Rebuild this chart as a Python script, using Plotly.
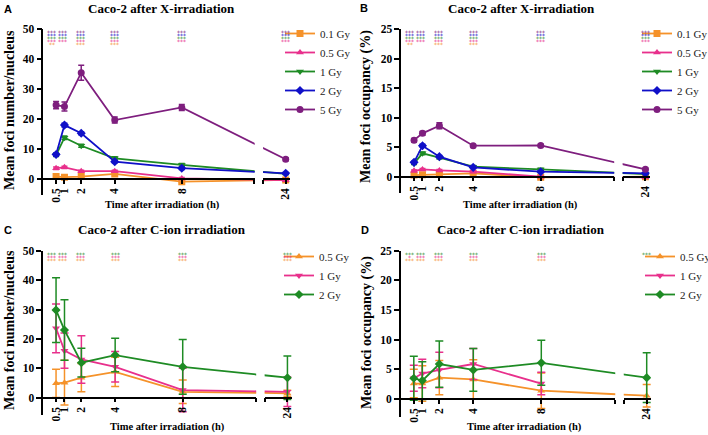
import plotly.graph_objects as go

W, H = 708, 435

# ---------------- data ----------------
times = [0.5, 1, 2, 4, 8, 24]
time_labels = ["0.5", "1", "2", "4", "8", "24"]

# Panel A: mean foci number / nucleus after X-irradiation
a_names = ["0.1 Gy", "0.5 Gy", "1 Gy", "2 Gy", "5 Gy"]
a_g01 = [0.8, 0.6, 0.8, 1.7, -0.9, -0.3]
a_g05 = [3.6, 3.9, 2.6, 2.6, 0.2, -0.4]
a_g1 = [8.0, 13.8, 11.1, 6.9, 4.7, 1.7]
a_g2 = [8.2, 18.0, 15.3, 5.8, 3.6, 1.9]
a_g5 = [24.7, 24.2, 35.5, 19.7, 23.9, 6.6]
a_e01 = [0.3, 0.3, 0.3, 0.4, 0.3, 0.2]
a_e05 = [0.4, 0.4, 0.3, 0.3, 0.3, 0.2]
a_e1 = [0.5, 0.6, 0.5, 0.5, 0.5, 0.3]
a_e2 = [0.5, 0.6, 0.5, 0.4, 0.4, 0.3]
a_e5 = [1.2, 1.5, 2.5, 1.0, 1.0, 0.5]

# Panel B: mean foci occupancy (%) after X-irradiation
b_g01 = [0.28, 0.34, 0.4, 0.57, -0.1, 0.0]
b_g05 = [1.0, 1.24, 1.07, 0.85, 0.0, -0.1]
b_g1 = [2.26, 3.96, 3.22, 1.7, 1.24, 0.45]
b_g2 = [2.43, 5.26, 3.4, 1.58, 0.85, 0.57]
b_g5 = [6.2, 7.35, 8.65, 5.26, 5.3, 1.25]
b_e01 = [0.1, 0.1, 0.1, 0.1, 0.1, 0.1]
b_e05 = [0.15, 0.15, 0.15, 0.15, 0.1, 0.1]
b_e1 = [0.2, 0.25, 0.2, 0.2, 0.2, 0.1]
b_e2 = [0.2, 0.25, 0.2, 0.2, 0.15, 0.1]
b_e5 = [0.3, 0.3, 0.5, 0.2, 0.2, 0.2]

# Panel C: mean foci number / nucleus after C-ion irradiation
c_names = ["0.5 Gy", "1 Gy", "2 Gy"]
c_g05 = [4.9, 5.1, 6.8, 8.8, 2.0, 1.5]
c_g1 = [23.6, 16.0, 13.0, 10.5, 2.6, 2.0]
c_g2 = [29.8, 23.0, 11.9, 14.5, 10.5, 6.8]
c_e05 = [4.8, 7.6, 4.8, 5.0, 4.0, 1.0]
c_e1 = [8.3, 6.0, 8.1, 5.2, 7.4, 5.0]
c_e2 = [11.0, 10.3, 4.9, 5.7, 9.3, 7.4]

# Panel D: mean foci occupancy (%) after C-ion irradiation
d_g05 = [2.6, 2.6, 3.6, 3.3, 1.4, 0.56]
d_g1 = [3.5, 4.3, 4.9, 5.9, 2.6, None]
d_g2 = [3.5, 3.1, 5.9, 4.9, 6.1, 3.6]
d_e05 = [2.4, 3.0, 2.9, 3.3, 3.0, 1.9]
d_e1 = [2.2, 2.4, 3.0, 2.6, 1.9, None]
d_e2 = [3.7, 3.2, 3.9, 3.6, 3.8, 4.2]

# significance marks (rows listed top to bottom)
a_stars = [["***"] * 6, ["***"] * 6, ["***"] * 6, ["***"] * 6,
           ["**", "", "***", "***", "", ""]]
b_stars = a_stars
c_stars = [["***"] * 6, ["***"] * 6, ["***"] * 6]
d_stars = [["***"] * 6, ["*", "***", "***", "***", "***", ""],
           ["***", "***", "***", "***", "***", ""]]

# ---------------- styling ----------------
ORANGE = "#F5922A"
PINK = "#E8308C"
GREEN = "#1E8B24"
BLUE = "#1010C8"
PURPLE = "#7E1E7E"
SERIF = "Liberation Serif"

XS, XE = -0.26, 12.35      # first axis segment (hours)
X2S, X2E = 12.85, 14.45    # second segment after the break
X24 = 14.2                 # display position of the 24 h point


def disp(t):
    return t if t <= 12 else X24


fig = go.Figure()
annotations = []
layout = {}

panels = [
    dict(key="A", title="Caco-2 after X-irradiation", ytitle="Mean foci number/nucleus",
         x0=47.7, pxh=16.76, y0=179.0, ppu=2.994, ytop=50, ybot_px=195, dtick=10,
         names=a_names, ys=[a_g01, a_g05, a_g1, a_g2, a_g5], es=[a_e01, a_e05, a_e1, a_e2, a_e5],
         colors=[ORANGE, PINK, GREEN, BLUE, PURPLE],
         symbols=["square", "triangle-up", "triangle-down", "diamond", "circle"],
         stars=a_stars, star_colors=[PURPLE, BLUE, GREEN, PINK, ORANGE], star_off=1.7, star_gap=3.0,
         leg=(280, 19), letter=(8, 9), tpos=(161, 8), ytpos=(9, 110), xtpos=(162, 205), capw=3),
    dict(key="B", title="Caco-2 after X-irradiation", ytitle="Mean foci occupancy (%)",
         x0=405.6, pxh=16.89, y0=176.7, ppu=5.896, ytop=25, ybot_px=193, dtick=5,
         names=a_names, ys=[b_g01, b_g05, b_g1, b_g2, b_g5], es=[b_e01, b_e05, b_e1, b_e2, b_e5],
         colors=[ORANGE, PINK, GREEN, BLUE, PURPLE],
         symbols=["square", "triangle-up", "triangle-down", "diamond", "circle"],
         stars=b_stars, star_colors=[PURPLE, BLUE, GREEN, PINK, ORANGE], star_off=1.7, star_gap=3.0,
         leg=(637, 19), letter=(364, 8), tpos=(521, 8), ytpos=(366, 106), xtpos=(520, 205), capw=3),
    dict(key="C", title="Caco-2 after C-ion irradiation", ytitle="Mean foci number/nucleus",
         x0=47.6, pxh=16.89, y0=397.7, ppu=2.94, ytop=50, ybot_px=415, dtick=10,
         names=c_names, ys=[c_g05, c_g1, c_g2], es=[c_e05, c_e1, c_e2],
         colors=[ORANGE, PINK, GREEN],
         symbols=["triangle-up", "triangle-down", "diamond"],
         stars=c_stars, star_colors=[GREEN, PINK, ORANGE], star_off=2.0, star_gap=3.3,
         leg=(279, 242), letter=(8, 230), tpos=(162, 229), ytpos=(9, 330), xtpos=(167, 427), capw=4),
    dict(key="D", title="Caco-2 after C-ion irradiation", ytitle="Mean foci occupancy (%)",
         x0=405.3, pxh=17.0, y0=399.0, ppu=5.93, ytop=25, ybot_px=416.7, dtick=5,
         names=c_names, ys=[d_g05, d_g1, d_g2], es=[d_e05, d_e1, d_e2],
         colors=[ORANGE, PINK, GREEN],
         symbols=["triangle-up", "triangle-down", "diamond"],
         stars=d_stars, star_colors=[GREEN, PINK, ORANGE], star_off=2.0, star_gap=3.3,
         leg=(640, 242), letter=(365, 230), tpos=(521, 229), ytpos=(367, 333), xtpos=(524, 427), capw=4),
]

star_shift = [-4.5, -2, -0.5, 0, 0, 0]

for p_i, p in enumerate(panels):
    xa = f"x{2 * p_i + 1}" if p_i > 0 else "x"
    xb = f"x{2 * p_i + 2}"
    ya = f"y{p_i + 1}" if p_i > 0 else "y"
    lg = f"legend{p_i + 1}" if p_i > 0 else "legend"
    xa_key = "xaxis" if p_i == 0 else f"xaxis{2 * p_i + 1}"
    xb_key = f"xaxis{2 * p_i + 2}"
    ya_key = "yaxis" if p_i == 0 else f"yaxis{p_i + 1}"

    ybot = -(p["ybot_px"] - p["y0"]) / p["ppu"]
    ytop_px = p["y0"] - p["ytop"] * p["ppu"]
    xpos = 1 - p["y0"] / H
    d1 = [(p["x0"] + XS * p["pxh"]) / W, (p["x0"] + XE * p["pxh"]) / W]
    d2 = [(p["x0"] + X2S * p["pxh"]) / W, (p["x0"] + X2E * p["pxh"]) / W]
    ydom = [1 - p["ybot_px"] / H, 1 - ytop_px / H]

    tickfont = dict(family=SERIF, size=11.5, color="black", weight="bold")
    common_x = dict(anchor="free", position=xpos, showgrid=False, zeroline=False,
                    showline=True, linecolor="black", linewidth=1.5,
                    ticks="outside", ticklen=4, tickwidth=1.5, tickcolor="black",
                    tickangle=-90, tickfont=tickfont, tickmode="array", fixedrange=True)
    layout[xa_key] = dict(common_x, domain=d1, range=[XS, XE],
                          tickvals=[disp(t) for t in times[:5]] + [XE - 0.02],
                          ticktext=time_labels[:5] + [""])
    layout[xb_key] = dict(common_x, domain=d2, range=[X2S, X2E],
                          tickvals=[X2S + 0.02, disp(times[5])],
                          ticktext=["", time_labels[5]])
    layout[ya_key] = dict(anchor=xa, domain=ydom, range=[ybot, p["ytop"]],
                          showgrid=False, zeroline=False, showline=True, linecolor="black",
                          linewidth=1.5, ticks="outside", ticklen=5, tickwidth=1.5,
                          tickcolor="black", tickvals=list(range(0, p["ytop"] + 1, p["dtick"])),
                          tickfont=tickfont, fixedrange=True)

    xs_disp = [disp(t) for t in times]
    for name, yv, ev, col, sym in zip(p["names"], p["ys"], p["es"], p["colors"], p["symbols"]):
        for xr, show in ((xa, True), (xb, False)):
            fig.add_trace(go.Scatter(
                x=xs_disp, y=yv, xaxis=xr, yaxis=ya, name=name, mode="lines+markers",
                line=dict(color=col, width=1.8),
                marker=dict(symbol=sym, size=7, color=col),
                error_y=dict(type="data", array=ev, color=col, thickness=1.5, width=p["capw"]),
                showlegend=show, legend=lg, connectgaps=False))

    layout[lg] = dict(x=p["leg"][0] / W, y=1 - p["leg"][1] / H, xanchor="left", yanchor="top",
                      bgcolor="rgba(0,0,0,0)", itemwidth=30, traceorder="normal",
                      font=dict(family=SERIF, size=11, color="#222"))

    # significance marks
    for r, (row, col) in enumerate(zip(p["stars"], p["star_colors"])):
        for i, s in enumerate(row):
            if not s:
                continue
            annotations.append(dict(
                x=xs_disp[i], y=p["ytop"], xref=(xb if times[i] > 12 else xa), yref=ya,
                text=s, showarrow=False, font=dict(family="DejaVu Sans", size=6, color=col),
                xshift=star_shift[i], yshift=-(p["star_off"] + 1.5 + p["star_gap"] * r),
                yanchor="middle", xanchor="center"))

    # texts: panel letter, title, axis titles
    def txt(pos, text, font, angle=0):
        annotations.append(dict(x=pos[0] / W, y=1 - pos[1] / H, xref="paper", yref="paper",
                                text=text, showarrow=False, textangle=angle, font=font,
                                xanchor="center", yanchor="middle"))

    txt(p["letter"], p["key"], dict(family="Liberation Sans", size=11, color="black", weight="bold"))
    txt(p["tpos"], p["title"], dict(family=SERIF, size=13, color="black", weight="bold"))
    txt(p["ytpos"], p["ytitle"], dict(family=SERIF, size=14, color="black", weight="bold"), -90)
    txt(p["xtpos"], "Time after irradiation (h)", dict(family=SERIF, size=10.5, color="black", weight="bold"))

fig.update_layout(
    width=W, height=H,
    margin=dict(l=0, r=0, t=0, b=0, autoexpand=False),
    paper_bgcolor="white", plot_bgcolor="white",
    annotations=annotations,
    **layout,
)

fig.write_html("out.html", config={"displayModeBar": False},
               post_script="document.body.style.margin='0';document.body.style.overflow='hidden';")
